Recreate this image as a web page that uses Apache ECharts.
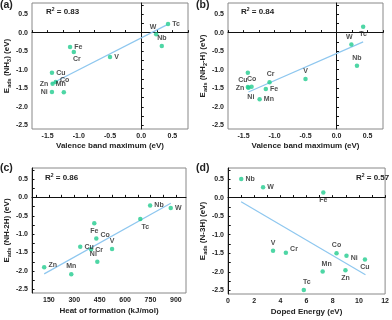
<!DOCTYPE html>
<html>
<head>
<meta charset="utf-8">
<script src="https://cdn.jsdelivr.net/npm/echarts@6/dist/echarts.min.js"></script>
<style>
html, body { margin: 0; padding: 0; background: #fff; }
#chart { width: 392px; height: 320px; }
</style>
</head>
<body>
<div id="chart"></div>
<script>
// dopant elements, same order in every panel
var elements = ['Tc', 'W', 'Nb', 'V', 'Fe', 'Cr', 'Cu', 'Zn', 'Co', 'Ni', 'Mn'];

// x values
var vbm = [0.43, 0.24, 0.33, -0.50, -1.14, -1.08, -1.43, -1.42, -1.37, -1.43, -1.24];
var heatForm = [690, 870, 748, 523, 418, 399, 335, 122, 430, 436, 282];
var dopedEnergy = [5.79, 2.68, 1.01, 3.44, 7.28, 4.42, 10.46, 8.97, 8.29, 9.05, 7.23];

// y values (eV)
var eNH3 = [0.23, -0.04, -0.36, -0.66, -0.39, -0.52, -1.08, -1.38, -1.33, -1.60, -1.61];
var eNH2H = [0.16, -0.32, -0.89, -1.25, -1.52, -1.34, -1.08, -1.49, -1.46, -1.47, -1.80];
var eNH2Hc = [-0.59, -0.29, -0.22, -1.40, -0.70, -1.42, -1.34, -1.90, -1.12, -1.75, -2.09];
var eN3H = [-2.49, 0.28, 0.50, -1.43, 0.14, -1.49, -1.67, -1.96, -1.50, -1.57, -1.99];

// fitted lines (end points)
var fitA = [[-1.44, -1.38], [0.41, 0.21]];
var fitB = [[-1.42, -1.60], [0.43, -0.25]];
var fitC = [[122, -2.08], [870, -0.16]];
var fitD = [[1.0, -0.11], [10.5, -2.08]];

var r2 = ['0.83', '0.84', '0.86', '0.57'];

// tick labels
var yTicks = [-2.5, -2.0, -1.5, -1.0, -0.5, 0.0, 0.5];
var vbmTicks = [-1.5, -1.0, -0.5, 0.0, 0.5];
var heatTicks = [150, 300, 450, 600, 750, 900];
var dopedTicks = [0, 2, 4, 6, 8, 10, 12];

var font = 'Liberation Sans, Arial, sans-serif';
var ink = '#222';
var dotColor = '#22cc8e';
var fitColor = '#8ec7ef';

// label placement per panel
var posA = {Tc:['right'], W:['top',[-3,1]], Nb:['top'], V:['right'], Fe:['right'], Cr:['bottom',[3,-1]],
    Cu:['right'], Zn:['left'], Co:['right',[0,-2]], Ni:['left'], Mn:['top',[-3,0]]};
var posB = {Tc:['bottom'], W:['top',[-2,0]], Nb:['top'], V:['top'], Fe:['right'], Cr:['top',[1,0]],
    Cu:['bottom',[-5,0]], Zn:['left'], Co:['top'], Ni:['bottom',[3,2]], Mn:['right']};
var posC = {Tc:['bottom',[5,0]], W:['right'], Nb:['right'], V:['top'], Fe:['bottom'], Cr:['right'],
    Cu:['right'], Zn:['right',[0,-2]], Co:['right',[0,-4]], Ni:['top',[-4,0]], Mn:['top']};
var posD = {Tc:['top',[3,0]], W:['right'], Nb:['right'], V:['top'], Fe:['bottom'], Cr:['right',[0,-4]],
    Cu:['bottom'], Zn:['bottom'], Co:['top'], Ni:['right',[0,2]], Mn:['top',[4,0]]};

function minorOf(ticks, step) {
    var out = [];
    ticks.forEach(function (t) { out.push(t); out.push(t + step); out.push(t - step); });
    return out;
}

var grids = [
    {left: 32, top: 3, width: 156, height: 126},
    {left: 228, top: 3, width: 155, height: 126},
    {left: 32, top: 168, width: 154, height: 125},
    {left: 228, top: 168, width: 159, height: 126}
];

function valueAxis(gi, min, max, ticks, minor, fmt, name, gap) {
    return {
        type: 'value', gridIndex: gi, min: min, max: max,
        name: name, nameLocation: 'middle', nameGap: gap,
        nameTextStyle: {fontFamily: font, fontWeight: 'bold', fontSize: 8, color: ink},
        axisLine: {show: true, lineStyle: {color: '#111', width: 1}},
        axisTick: {show: true, inside: true, length: 2.5, customValues: minor, lineStyle: {color: '#111'}},
        axisLabel: {customValues: ticks, fontFamily: font, fontWeight: 'bold', fontSize: 7, color: ink,
            margin: 4, formatter: fmt},
        splitLine: {show: false}
    };
}

function yName(inner, sub) {
    return '{e|E}{s|ads}{e| (' + inner + '}' + (sub ? '{s|' + sub + '}' : '') + '{e|' + (sub ? ')' : '') + ' (eV)}';
}

var yRich = {
    e: {fontFamily: font, fontWeight: 'bold', fontSize: 8, color: ink, lineHeight: 10},
    s: {fontFamily: font, fontWeight: 'bold', fontSize: 5.5, color: ink, lineHeight: 10, verticalAlign: 'bottom'}
};

function fixed1(v) { return v.toFixed(1); }
function plain(v) { return String(v); }

var xAxes = [
    valueAxis(0, -1.75, 0.75, vbmTicks, minorOf(vbmTicks, 0.25), fixed1, 'Valence band maximum (eV)', 13),
    valueAxis(1, -1.75, 0.75, vbmTicks, minorOf(vbmTicks, 0.25), fixed1, 'Valence band maximum (eV)', 13),
    valueAxis(2, 50, 960, heatTicks, minorOf(heatTicks, 75), plain, 'Heat of formation (kJ/mol)', 14),
    valueAxis(3, 0, 12, dopedTicks, minorOf(dopedTicks, 1), plain, 'Doped Energy (eV)', 14)
];

var yNames = [yName('NH', '3'), yName('NH', '2') .replace('{e|)', '{e|-H)'), yName('NH-2H)', ''), yName('N-3H)', '')];
var yAxes = [0, 1, 2, 3].map(function (i) {
    var ax = valueAxis(i, -2.6, 0.8, yTicks, minorOf(yTicks, 0.25), fixed1, yNames[i], 19);
    ax.nameTextStyle = {rich: yRich};
    return ax;
});

function points(gi, xs, ys, pos) {
    return {
        type: 'scatter', xAxisIndex: gi, yAxisIndex: gi,
        symbolSize: 4.5, itemStyle: {color: dotColor},
        label: {show: true, formatter: '{b}', fontFamily: font, fontWeight: 'bold', fontSize: 7,
            color: ink, distance: 2},
        data: elements.map(function (el, i) {
            var p = pos[el];
            return {name: el, value: [xs[i], ys[i]], label: {position: p[0], offset: p[1] || [0, 0]}};
        }),
        z: 3
    };
}

function fitLine(gi, pts) {
    return {
        type: 'line', xAxisIndex: gi, yAxisIndex: gi, data: pts, symbol: 'none', silent: true,
        lineStyle: {color: fitColor, width: 1.2}, z: 2
    };
}

var series = [
    fitLine(0, fitA), points(0, vbm, eNH3, posA),
    fitLine(1, fitB), points(1, vbm, eNH2H, posB),
    fitLine(2, fitC), points(2, heatForm, eNH2Hc, posC),
    fitLine(3, fitD), points(3, dopedEnergy, eN3H, posD)
];

var textRich = {
    b: {fontFamily: font, fontWeight: 'bold', fontSize: 8, fill: ink, lineHeight: 10},
    p: {fontFamily: font, fontWeight: 'bold', fontSize: 5, fill: ink, lineHeight: 10, verticalAlign: 'top'}
};

function tag(x, y, txt) {
    return {type: 'text', left: x, top: y, z: 10,
        style: {text: txt, fontFamily: font, fontWeight: 'bold', fontSize: 10.5, fill: ink}};
}
function r2Text(x, y, v) {
    return {type: 'text', left: x, top: y, z: 10,
        style: {text: '{b|R}{p|2}{b| = ' + v + '}', rich: textRich}};
}

var chart = echarts.init(document.getElementById('chart'), null, {renderer: 'canvas'});
chart.setOption({
    animation: false,
    backgroundColor: '#fff',
    grid: grids.map(function (g) {
        return Object.assign({show: true, borderColor: '#888', borderWidth: 1, backgroundColor: 'transparent'}, g);
    }),
    xAxis: xAxes,
    yAxis: yAxes,
    series: series,
    graphic: [
        tag(0, 0, '(a)'), tag(196, 0, '(b)'), tag(0, 163, '(c)'), tag(196, 163, '(d)'),
        r2Text(46, 7, r2[0]), r2Text(241, 7, r2[1]), r2Text(45, 173, r2[2]), r2Text(356, 173, r2[3])
    ]
});
</script>
</body>
</html>
